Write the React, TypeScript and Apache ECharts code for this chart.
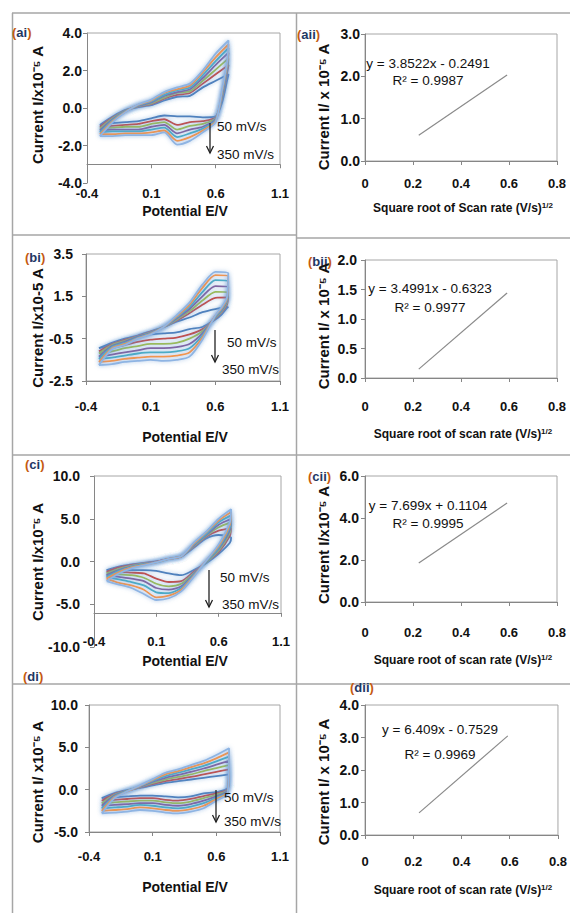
import React, { useEffect, useRef } from 'react';
import * as echarts from 'echarts';

// ---------- data ----------
const scanRates = ['50 mV/s', '100 mV/s', '150 mV/s', '200 mV/s', '250 mV/s', '300 mV/s', '350 mV/s'];
const cvColors = ['#4F81BD', '#C0504D', '#9BBB59', '#8064A2', '#4BACC6', '#F79646', '#8EB4E3'];

// potentials (V) of the forward (anodic) and reverse (cathodic) sweeps
const fwdE = [-0.3, -0.2, -0.1, 0, 0.1, 0.2, 0.3, 0.4, 0.5, 0.6, 0.7];
const revE12 = [0.69, 0.65, 0.6, 0.5, 0.4, 0.3, 0.2, 0.1, 0, -0.1, -0.2, -0.3];
const revE11 = [0.69, 0.6, 0.5, 0.4, 0.3, 0.2, 0.1, 0, -0.1, -0.2, -0.3];

// (ai) current, x10^-5 A
const aiUpper = [
  [-0.9, -0.45, -0.1, 0.05, 0.15, 0.4, 0.6, 0.65, 1.1, 1.45, 1.8],
  [-1.0, -0.5, -0.12, 0.08, 0.2, 0.5, 0.7, 0.8, 1.3, 1.8, 2.3],
  [-1.1, -0.55, -0.14, 0.1, 0.25, 0.55, 0.8, 0.9, 1.45, 2.05, 2.65],
  [-1.2, -0.6, -0.16, 0.12, 0.3, 0.65, 0.85, 1.0, 1.6, 2.3, 2.95],
  [-1.3, -0.65, -0.18, 0.15, 0.35, 0.7, 0.95, 1.1, 1.75, 2.5, 3.2],
  [-1.4, -0.7, -0.2, 0.18, 0.4, 0.8, 1.0, 1.2, 1.9, 2.7, 3.4],
  [-1.5, -0.75, -0.22, 0.2, 0.45, 0.85, 1.1, 1.3, 2.0, 2.9, 3.6],
];
const aiLower = [
  [1.5, 0.3, -0.45, -0.5, -0.45, -0.45, -0.4, -0.55, -0.7, -0.75, -0.8, -0.9],
  [1.9, 0.5, -0.5, -0.7, -0.75, -0.9, -0.6, -0.7, -0.85, -0.9, -0.95, -1.0],
  [2.1, 0.6, -0.55, -0.85, -0.95, -1.15, -0.75, -0.85, -1.0, -1.0, -1.05, -1.1],
  [2.2, 0.7, -0.6, -1.0, -1.15, -1.35, -0.9, -1.0, -1.15, -1.15, -1.15, -1.2],
  [2.3, 0.8, -0.65, -1.1, -1.35, -1.55, -1.05, -1.15, -1.25, -1.25, -1.25, -1.3],
  [2.4, 0.9, -0.7, -1.2, -1.55, -1.75, -1.2, -1.3, -1.35, -1.35, -1.4, -1.4],
  [2.5, 1.0, -0.75, -1.3, -1.75, -1.95, -1.3, -1.45, -1.45, -1.45, -1.5, -1.5],
];

// (bi)
const biUpper = [
  [-0.95, -0.7, -0.5, -0.35, -0.15, 0.05, 0.3, 0.5, 0.75, 0.9, 1.0],
  [-1.1, -0.75, -0.55, -0.38, -0.17, 0.05, 0.35, 0.7, 1.1, 1.43, 1.45],
  [-1.2, -0.8, -0.6, -0.4, -0.2, 0.05, 0.4, 0.8, 1.3, 1.71, 1.7],
  [-1.35, -0.85, -0.65, -0.42, -0.22, 0.05, 0.45, 0.9, 1.5, 1.98, 1.95],
  [-1.45, -0.9, -0.7, -0.45, -0.25, 0.05, 0.5, 1.0, 1.7, 2.27, 2.2],
  [-1.6, -0.95, -0.75, -0.48, -0.27, 0.05, 0.55, 1.1, 1.9, 2.5, 2.45],
  [-1.75, -1.0, -0.8, -0.5, -0.3, 0.05, 0.6, 1.2, 2.05, 2.66, 2.6],
];
const biLower = [
  [0.95, 0.65, 0.4, 0.05, -0.05, -0.2, -0.25, -0.3, -0.45, -0.6, -0.8, -0.95],
  [1.1, 0.75, 0.45, -0.05, -0.3, -0.45, -0.5, -0.55, -0.65, -0.8, -0.95, -1.1],
  [1.2, 0.8, 0.5, -0.15, -0.5, -0.7, -0.75, -0.75, -0.85, -0.95, -1.1, -1.2],
  [1.3, 0.85, 0.55, -0.25, -0.75, -0.9, -0.95, -0.95, -1.05, -1.15, -1.25, -1.35],
  [1.35, 0.9, 0.55, -0.35, -0.95, -1.1, -1.15, -1.15, -1.2, -1.3, -1.4, -1.45],
  [1.4, 0.95, 0.6, -0.45, -1.15, -1.3, -1.35, -1.35, -1.4, -1.45, -1.55, -1.6],
  [1.45, 1.0, 0.6, -0.55, -1.35, -1.5, -1.55, -1.5, -1.55, -1.6, -1.7, -1.75],
];

// (ci)
const ciUpper = [
  [-1.0, -0.6, -0.35, -0.15, 0.0, 0.3, 0.6, 1.6, 2.7, 3.1, 2.8],
  [-1.2, -0.7, -0.4, -0.2, 0.0, 0.3, 0.6, 1.7, 2.9, 3.6, 3.9],
  [-1.4, -0.85, -0.5, -0.25, -0.05, 0.3, 0.6, 1.8, 3.0, 4.0, 4.6],
  [-1.6, -1.0, -0.6, -0.3, -0.05, 0.3, 0.6, 1.9, 3.1, 4.3, 5.0],
  [-1.8, -1.1, -0.65, -0.35, -0.1, 0.3, 0.6, 2.0, 3.2, 4.6, 5.4],
  [-2.0, -1.25, -0.7, -0.4, -0.1, 0.3, 0.6, 2.1, 3.4, 4.8, 5.8],
  [-2.3, -1.4, -0.8, -0.45, -0.1, 0.3, 0.6, 2.2, 3.5, 5.0, 6.1],
];
const ciLower = [
  [2.2, 0.9, -0.2, -1.0, -1.6, -1.4, -1.1, -1.0, -1.0, -1.0, -1.0],
  [3.0, 1.1, -0.1, -1.2, -2.3, -2.4, -2.0, -1.4, -1.3, -1.2, -1.2],
  [3.4, 1.3, -0.1, -1.4, -2.6, -2.9, -2.6, -1.9, -1.6, -1.5, -1.4],
  [3.7, 1.5, 0.0, -1.5, -2.9, -3.3, -3.1, -2.3, -2.0, -1.8, -1.6],
  [4.0, 1.6, 0.0, -1.6, -3.1, -3.7, -3.6, -2.8, -2.4, -2.1, -1.8],
  [4.3, 1.8, 0.1, -1.7, -3.3, -4.0, -4.2, -3.3, -2.8, -2.5, -2.0],
  [4.6, 2.0, 0.1, -1.8, -3.5, -4.3, -4.5, -3.8, -3.1, -2.7, -2.3],
];

// (di)
const diUpper = [
  [-1.0, -0.4, -0.05, 0.2, 0.5, 0.8, 1.0, 1.2, 1.4, 1.6, 1.8],
  [-1.3, -0.5, -0.1, 0.25, 0.65, 1.0, 1.25, 1.5, 1.8, 2.1, 2.4],
  [-1.6, -0.6, -0.1, 0.3, 0.8, 1.2, 1.5, 1.8, 2.2, 2.55, 2.9],
  [-1.9, -0.7, -0.15, 0.35, 0.95, 1.4, 1.75, 2.1, 2.5, 2.95, 3.4],
  [-2.2, -0.8, -0.15, 0.4, 1.05, 1.6, 2.0, 2.4, 2.8, 3.35, 3.9],
  [-2.5, -0.9, -0.2, 0.45, 1.15, 1.8, 2.2, 2.65, 3.1, 3.7, 4.4],
  [-2.8, -1.0, -0.2, 0.5, 1.25, 2.0, 2.4, 2.9, 3.4, 4.1, 4.9],
];
const diLower = [
  [0.2, -0.3, -0.45, -0.8, -0.9, -0.8, -0.7, -0.7, -0.8, -0.9, -1.0],
  [0.1, -0.45, -0.75, -1.1, -1.3, -1.2, -1.0, -1.0, -1.1, -1.2, -1.3],
  [0.0, -0.6, -1.0, -1.4, -1.6, -1.5, -1.3, -1.3, -1.4, -1.5, -1.6],
  [-0.1, -0.8, -1.3, -1.7, -1.9, -1.8, -1.6, -1.6, -1.7, -1.8, -1.9],
  [-0.2, -0.95, -1.6, -2.0, -2.2, -2.1, -1.9, -1.8, -2.0, -2.1, -2.2],
  [-0.3, -1.1, -1.9, -2.3, -2.5, -2.4, -2.2, -2.1, -2.3, -2.4, -2.5],
  [-0.4, -1.3, -2.2, -2.6, -2.8, -2.7, -2.5, -2.4, -2.6, -2.7, -2.8],
];

// linear fits: peak current vs square root of scan rate (ends of the drawn trendline)
const sqrtScanEnds = [0.224, 0.592];
const aiiFit = [0.61, 2.03];
const biiFit = [0.15, 1.44];
const ciiFit = [1.86, 4.71];
const diiFit = [0.68, 3.05];
const fitEquations = ['y = 3.8522x - 0.2491', 'y = 3.4991x - 0.6323', 'y = 7.699x + 0.1104', 'y = 6.409x - 0.7529'];
const fitR2 = ['R² = 0.9987', 'R² = 0.9977', 'R² = 0.9995', 'R² = 0.9969'];

// ---------- layout / style ----------
const FONT = '"Liberation Sans", Arial, sans-serif';
const TXT = '#111111';
const AXIS = '#868686';
const FRAME = '#a6a6a6';

const cvPanels = [
  { up: aiUpper, low: aiLower, rev: revE12, yMin: -4, yMax: 4, yInt: 2, cross: -3, box: { left: 87, top: 33, width: 193, height: 150 }, xMargin: 23, yMargin: 5 },
  { up: biUpper, low: biLower, rev: revE12, yMin: -2.5, yMax: 3.5, yInt: 2, cross: null, box: { left: 86, top: 254, width: 194, height: 127 }, xMargin: 19, yMargin: 13 },
  { up: ciUpper, low: ciLower, rev: revE11, yMin: -10, yMax: 10, yInt: 5, cross: -6, box: { left: 94, top: 476, width: 187, height: 171 }, xMargin: 22, yMargin: 14 },
  { up: diUpper, low: diLower, rev: revE11, yMin: -5, yMax: 10, yInt: 5, cross: null, box: { left: 89, top: 705, width: 191, height: 127 }, xMargin: 18, yMargin: 11 },
];

const fitPanels = [
  { fit: aiiFit, yMax: 3, yInt: 1, box: { left: 365, top: 34, width: 192, height: 127 }, xMargin: 16, yMargin: 5 },
  { fit: biiFit, yMax: 2, yInt: 0.5, box: { left: 365, top: 260, width: 192, height: 118 }, xMargin: 22, yMargin: 8 },
  { fit: ciiFit, yMax: 6, yInt: 2, box: { left: 365, top: 476, width: 192, height: 126 }, xMargin: 24, yMargin: 6 },
  { fit: diiFit, yMax: 4, yInt: 1, box: { left: 365, top: 705, width: 195, height: 130 }, xMargin: 20, yMargin: 6 },
];

function loopData(up: number[], revE: number[], low: number[]) {
  return fwdE.map((e, i) => [e, up[i]]).concat(revE.map((e, i) => [e, low[i]]));
}

function txt(x: number, y: number, text: string, o: any = {}) {
  return {
    type: 'text', x, y, rotation: o.rotation || 0, z: 10,
    style: {
      text, fill: o.fill || TXT, fontSize: o.size || 13, fontWeight: o.bold ? 'bold' : 'normal',
      fontFamily: FONT, align: o.align || 'center', verticalAlign: 'middle', rich: o.rich,
    },
  };
}
function seg(x1: number, y1: number, x2: number, y2: number, stroke = FRAME, w = 1.5) {
  return { type: 'line', z: 5, shape: { x1, y1, x2, y2 }, style: { stroke, lineWidth: w } };
}
function arrow(x: number, y1: number, y2: number) {
  return [
    seg(x, y1, x, y2, '#222', 1.3),
    { type: 'polyline', z: 10, shape: { points: [[x - 3.5, y2 - 7], [x, y2], [x + 3.5, y2 - 7]] }, style: { stroke: '#222', lineWidth: 1.3, fill: null } },
  ];
}

export default function App() {
  const ref = useRef<HTMLDivElement>(null);
  useEffect(() => {
    if (!ref.current) return;
    const chart = echarts.init(ref.current, null, { renderer: 'svg' });

    const grid: any[] = [];
    const xAxis: any[] = [];
    const yAxis: any[] = [];
    const series: any[] = [];
    const graphic: any[] = [];

    const labelStyle = (size: number, margin: number, fmt: (v: number) => string) => ({
      margin, fontSize: size, fontWeight: 'bold', color: TXT, fontFamily: FONT, formatter: fmt,
    });

    cvPanels.forEach((p, gi) => {
      const b = p.box;
      const off = p.cross === null ? 0 : -((p.cross - p.yMin) / (p.yMax - p.yMin)) * b.height;
      grid.push({ ...b, show: p.cross === null, borderColor: FRAME, borderWidth: 1 });
      if (p.cross !== null) {
        const yLine = b.top + b.height + off;
        graphic.push({ type: 'polyline', z: 1, shape: { points: [[b.left, b.top], [b.left + b.width, b.top], [b.left + b.width, yLine]] }, style: { stroke: FRAME, lineWidth: 1, fill: null } });
      }
      xAxis.push({
        gridIndex: gi, type: 'value', min: -0.4, max: 1.1, interval: 0.5, position: 'bottom', offset: off,
        axisLine: { show: true, onZero: false, lineStyle: { color: AXIS, width: 1 } },
        axisTick: { show: true, length: 4, lineStyle: { color: AXIS } },
        splitLine: { show: false },
        axisLabel: labelStyle(13, p.xMargin, (v: number) => v.toFixed(1)),
      });
      yAxis.push({
        gridIndex: gi, type: 'value', min: p.yMin, max: p.yMax, interval: p.yInt,
        axisLine: { show: true, onZero: false, lineStyle: { color: AXIS, width: 1 } },
        axisTick: { show: true, length: 4, lineStyle: { color: AXIS } },
        splitLine: { show: false },
        axisLabel: labelStyle(14, p.yMargin, (v: number) => v.toFixed(1)),
      });
      p.up.forEach((up, k) => {
        series.push({
          type: 'line', name: scanRates[k], xAxisIndex: gi, yAxisIndex: gi, symbol: 'none', smooth: 0.25,
          data: loopData(up, p.rev, p.low[k]),
          lineStyle: { color: cvColors[k], width: 1.8, shadowBlur: 4, shadowColor: 'rgba(100,150,210,0.6)' },
          z: 3,
        });
      });
    });

    fitPanels.forEach((p, j) => {
      const gi = j + 4;
      grid.push({ ...p.box, show: true, borderColor: FRAME, borderWidth: 1 });
      xAxis.push({
        gridIndex: gi, type: 'value', min: 0, max: 0.8, interval: 0.2,
        axisLine: { show: true, onZero: false, lineStyle: { color: AXIS, width: 1 } },
        axisTick: { show: true, length: 4, lineStyle: { color: AXIS } },
        splitLine: { show: false },
        axisLabel: labelStyle(13, p.xMargin, (v: number) => (Math.abs(v) < 1e-9 ? '0' : v.toFixed(1))),
      });
      yAxis.push({
        gridIndex: gi, type: 'value', min: 0, max: p.yMax, interval: p.yInt,
        axisLine: { show: true, onZero: false, lineStyle: { color: AXIS, width: 1 } },
        axisTick: { show: true, length: 4, lineStyle: { color: AXIS } },
        splitLine: { show: false },
        axisLabel: labelStyle(14, p.yMargin, (v: number) => v.toFixed(1)),
      });
      series.push({
        type: 'line', name: 'fit', xAxisIndex: gi, yAxisIndex: gi, symbol: 'none',
        data: sqrtScanEnds.map((x, i) => [x, p.fit[i]]),
        lineStyle: { color: '#8a8a8a', width: 1.2 },
      });
    });

    // table frame
    graphic.push(
      seg(12, 13, 570, 13), seg(12.5, 13, 12.5, 913), seg(296.5, 13, 296.5, 913),
      seg(12, 235, 297, 235), seg(297, 238, 570, 238), seg(12, 455, 570, 455), seg(12, 684, 570, 684),
    );

    // panel labels
    const lab = (x: number, y: number, t: string) =>
      txt(x, y, `{p|(}{t|${t}}{p|)}`, {
        align: 'left', bold: true, size: 13,
        rich: { p: { fill: '#C55A11', fontSize: 13, fontWeight: 'bold', fontFamily: FONT }, t: { fill: '#1F3864', fontSize: 13, fontWeight: 'bold', fontFamily: FONT } },
      });
    graphic.push(
      lab(12, 32, 'ai'), lab(297, 34, 'aii'), lab(25, 257, 'bi'), lab(308, 261, 'bii'),
      lab(25, 464, 'ci'), lab(308, 476, 'cii'), lab(23, 676, 'di'), lab(350, 687, 'dii'),
    );

    // y titles (rotated)
    const yt = (x: number, y: number, t: string) => txt(x, y, t, { rotation: Math.PI / 2, bold: true, size: 15 });
    graphic.push(
      yt(37.5, 105, 'Current I/x10⁻⁵ A'), yt(37.5, 328, 'Current I/x10-5 A'),
      yt(37.5, 562, 'Current I/x10⁻⁵ A'), yt(37.5, 782, 'Current I/ x10⁻⁵ A'),
      yt(323, 107, 'Current I/ x 10⁻⁵ A'), yt(323, 326, 'Current I/ x 10⁻⁵ A'),
      yt(323, 545, 'Current I/x10⁻⁵ A'), yt(323, 782, 'Current I/ x 10⁻⁵ A'),
    );

    // x titles
    [211, 437, 661, 887].forEach((y) => graphic.push(txt(185, y, 'Potential E/V', { bold: true, size: 14 })));
    const sq = (y: number, w: string) =>
      txt(463, y, `{a|Square root of ${w} rate (V/s)}{b|1/2}`, {
        bold: true, size: 12,
        rich: {
          a: { fontSize: 12, fontWeight: 'bold', fill: TXT, fontFamily: FONT },
          b: { fontSize: 8, fontWeight: 'bold', fill: TXT, fontFamily: FONT, padding: [0, 0, 6, 0] },
        },
      });
    graphic.push(sq(208, 'Scan'), sq(434, 'scan'), sq(660, 'scan'), sq(890, 'scan'));

    // fit equations
    const eqPos = [[428, 63, 80], [430, 288, 307], [428, 505, 523], [440, 729, 754]];
    eqPos.forEach(([x, y1, y2], i) => {
      graphic.push(txt(x, y1, fitEquations[i], { size: 13.5 }), txt(x, y2, fitR2[i], { size: 13.5 }));
    });

    // scan-rate annotations
    const ann = [
      [210, 123, 153, 217, 126, 217, 154],
      [215, 330, 362, 227, 342, 222, 369],
      [209, 570, 607, 220, 577, 222, 604],
      [216, 790, 822, 224, 797, 224, 821],
    ];
    ann.forEach(([ax, a1, a2, t1x, t1y, t2x, t2y]) => {
      graphic.push(...arrow(ax, a1, a2));
      graphic.push(txt(t1x, t1y, scanRates[0], { align: 'left', size: 13.5 }));
      graphic.push(txt(t2x, t2y, scanRates[6], { align: 'left', size: 13.5 }));
    });

    chart.setOption({
      animation: false,
      backgroundColor: '#ffffff',
      grid, xAxis, yAxis, series, graphic,
    });
    return () => chart.dispose();
  }, []);

  return <div ref={ref} style={{ position: 'absolute', left: 0, top: 0, width: 570, height: 913, background: '#fff' }} />;
}
